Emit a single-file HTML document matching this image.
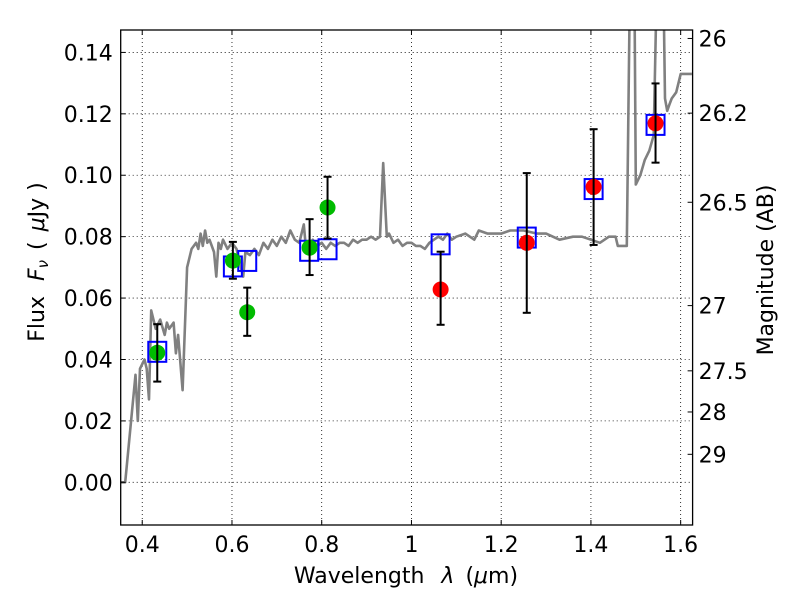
<!DOCTYPE html>
<html><head><meta charset="utf-8"><style>
body{margin:0;background:#fff}
svg text{font-family:"DejaVu Sans","Liberation Sans",sans-serif;fill:#000}
</style></head><body>
<svg id="c" width="800" height="600" xmlns="http://www.w3.org/2000/svg">
<defs><clipPath id="pc"><rect x="120.7" y="30" width="571.9" height="495"/></clipPath></defs>
<rect width="800" height="600" fill="#fff"/>
<g id="grid"></g>
<g id="spec" clip-path="url(#pc)"></g>
<g id="marks"></g>
<rect x="120.7" y="30" width="571.9" height="495" fill="none" stroke="#000" stroke-width="1.3"/>
<g id="axes"></g>
<text x="406" y="583" font-size="22" text-anchor="middle">Wavelength <tspan dx="10" font-style="italic">λ</tspan> <tspan dx="4">(</tspan><tspan font-style="italic">μ</tspan>m)</text>
<text transform="translate(44,262) rotate(-90)" font-size="22" text-anchor="middle">Flux <tspan dx="8" font-style="italic">F</tspan><tspan font-style="italic" font-size="15" dy="4">ν</tspan><tspan dy="-4" dx="10">(</tspan><tspan dx="10" font-style="italic">μ</tspan>Jy )</text>
<text transform="translate(773,270) rotate(-90)" font-size="22" text-anchor="middle">Magnitude (AB)</text>
</svg>
<script>
const xTicks=[0.4,0.6,0.8,1.0,1.2,1.4,1.6];
const xTickLabels=["0.4","0.6","0.8","1","1.2","1.4","1.6"];
const yTicks=[0,0.02,0.04,0.06,0.08,0.10,0.12,0.14];
const yTickLabels=["0.00","0.02","0.04","0.06","0.08","0.10","0.12","0.14"];
const magTicks=[26,26.2,26.5,27,27.5,28,29];
const magTickLabels=["26","26.2","26.5","27","27.5","28","29"];
const specX=[0.35,0.362,0.385,0.39,0.395,0.405,0.41,0.415,0.42,0.43,0.44,0.45,0.455,0.46,0.47,0.475,0.48,0.49,0.5,0.51,0.52,0.525,0.53,0.535,0.54,0.545,0.55,0.56,0.565,0.57,0.575,0.58,0.59,0.6,0.61,0.62,0.625,0.63,0.64,0.65,0.66,0.67,0.68,0.69,0.7,0.71,0.72,0.73,0.74,0.75,0.76,0.765,0.77,0.78,0.79,0.8,0.81,0.82,0.83,0.84,0.85,0.86,0.87,0.88,0.89,0.9,0.91,0.92,0.93,0.937,0.945,0.95,0.96,0.97,0.98,0.99,1.0,1.01,1.02,1.03,1.04,1.05,1.06,1.07,1.08,1.09,1.1,1.12,1.14,1.15,1.17,1.2,1.22,1.25,1.28,1.3,1.33,1.36,1.38,1.4,1.42,1.44,1.455,1.46,1.48,1.49,1.495,1.50,1.51,1.52,1.53,1.54,1.552,1.558,1.565,1.57,1.575,1.58,1.59,1.6,1.61,1.625];
const specY=[0,0,0.035,0.02,0.037,0.04,0.037,0.027,0.056,0.05,0.053,0.048,0.052,0.05,0.052,0.042,0.048,0.03,0.07,0.076,0.078,0.076,0.081,0.077,0.082,0.078,0.079,0.075,0.067,0.078,0.076,0.079,0.076,0.078,0.076,0.07,0.067,0.075,0.074,0.076,0.074,0.078,0.076,0.079,0.077,0.08,0.078,0.082,0.079,0.078,0.084,0.076,0.076,0.079,0.077,0.078,0.076,0.078,0.077,0.078,0.078,0.077,0.079,0.078,0.079,0.079,0.08,0.079,0.080,0.104,0.080,0.081,0.078,0.079,0.077,0.078,0.078,0.077,0.077,0.076,0.078,0.079,0.080,0.079,0.081,0.079,0.080,0.081,0.079,0.082,0.081,0.081,0.082,0.082,0.081,0.081,0.079,0.080,0.080,0.079,0.078,0.080,0.080,0.077,0.077,0.2,0.2,0.097,0.100,0.105,0.108,0.113,0.2,0.2,0.125,0.121,0.123,0.125,0.127,0.133,0.133,0.133];
const greenX=[0.4335,0.602,0.634,0.773,0.813];
const greenY=[0.0422,0.0722,0.0554,0.0764,0.0895];
const greenLo=[0.0328,0.0663,0.0477,0.0675,0.0794];
const greenHi=[0.0515,0.0783,0.0634,0.0857,0.0995];
const redX=[1.065,1.257,1.406,1.544];
const redY=[0.0628,0.078,0.0962,0.1169];
const redLo=[0.0513,0.0552,0.0773,0.1041];
const redHi=[0.0751,0.1007,0.115,0.1299];
const sqX=[0.4335,0.602,0.634,0.772,0.813,1.065,1.257,1.406,1.544];
const sqY=[0.0425,0.0703,0.0721,0.0754,0.0759,0.0775,0.0797,0.0955,0.1164];

const L=120.7,R=692.6,T=30,B=525,X0=0.352,X1=1.6266,Y0=-0.0139,Y1=0.1473;
const sx=v=>L+(v-X0)/(X1-X0)*(R-L);
const sy=v=>B-(v-Y0)/(Y1-Y0)*(B-T);
const NS="http://www.w3.org/2000/svg";
function mk(tag,parent,attrs){const e=document.createElementNS(NS,tag);for(const k in attrs)e.setAttribute(k,attrs[k]);parent.appendChild(e);return e;}
const grid=document.getElementById('grid'),axes=document.getElementById('axes'),spec=document.getElementById('spec'),marks=document.getElementById('marks');
xTicks.forEach((t,i)=>{const x=sx(t);
 let g=mk('line',grid,{x1:x,x2:x,y1:T,y2:B,stroke:'#000','stroke-width':0.8,'stroke-dasharray':'1,3'});
 
 mk('line',axes,{x1:x,x2:x,y1:B,y2:B-5,stroke:'#000'});mk('line',axes,{x1:x,x2:x,y1:T,y2:T+5,stroke:'#000'});
 let tx=mk('text',axes,{x:x,y:B+27,'font-size':22,'text-anchor':'middle'});tx.textContent=xTickLabels[i];
 });
yTicks.forEach((t,i)=>{const y=sy(t);
 let g=mk('line',grid,{x1:L,x2:R,y1:y,y2:y,stroke:'#000','stroke-width':0.8,'stroke-dasharray':'1,3'});
 
 mk('line',axes,{x1:L,x2:L+5,y1:y,y2:y,stroke:'#000'});
 let tx=mk('text',axes,{x:L-8,y:y+8,'font-size':22,'text-anchor':'end'});tx.textContent=yTickLabels[i];
 });
magTicks.forEach((m,i)=>{const y=sy(Math.pow(10,(23.9-m)/2.5));
 mk('line',axes,{x1:R,x2:R-5,y1:y,y2:y,stroke:'#000'});
 let tx=mk('text',axes,{x:R+6,y:y+8,'font-size':22});tx.textContent=magTickLabels[i];
 });
let d=specX.map((x,i)=>(i?'L':'M')+sx(x).toFixed(1)+','+sy(specY[i]).toFixed(1)).join('');
let p=mk('path',spec,{d:d,fill:'none',stroke:'#808080','stroke-width':2.6,'stroke-linejoin':'round'});

function err(xs,lo,hi){xs.forEach((x,i)=>{const X=sx(x);
 mk('line',marks,{x1:X,x2:X,y1:sy(lo[i]),y2:sy(hi[i]),stroke:'#000','stroke-width':2});
 mk('line',marks,{x1:X-4,x2:X+4,y1:sy(lo[i]),y2:sy(lo[i]),stroke:'#000','stroke-width':2});
 mk('line',marks,{x1:X-4,x2:X+4,y1:sy(hi[i]),y2:sy(hi[i]),stroke:'#000','stroke-width':2});});}
sqX.forEach((x,i)=>{let r=mk('rect',marks,{x:sx(x)-9,y:sy(sqY[i])-10,width:18,height:20,fill:'none',stroke:'#0000ff','stroke-width':2});
 });
greenX.forEach((x,i)=>{let c=mk('circle',marks,{cx:sx(x),cy:sy(greenY[i]),r:8,fill:'#00bb00'});
 });
redX.forEach((x,i)=>{let c=mk('circle',marks,{cx:sx(x),cy:sy(redY[i]),r:8,fill:'#ff0000'});
 });
err(greenX,greenLo,greenHi);err(redX,redLo,redHi);
</script>
</body></html>
